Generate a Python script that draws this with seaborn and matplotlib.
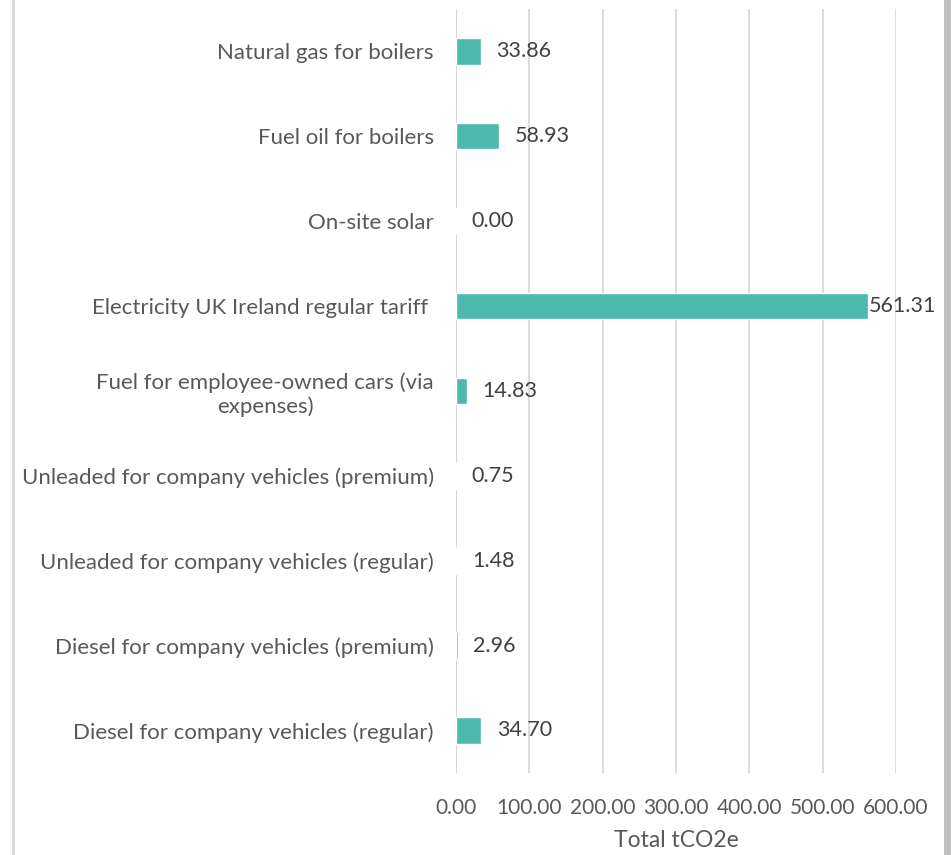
import pandas as pd
import seaborn as sns
import matplotlib.pyplot as plt
from matplotlib.lines import Line2D

categories = [
    'Natural gas for boilers',
    'Fuel oil for boilers',
    'On-site solar',
    'Electricity UK Ireland regular tariff ',
    'Fuel for employee-owned cars (via\nexpenses)',
    'Unleaded for company vehicles (premium)',
    'Unleaded for company vehicles (regular)',
    'Diesel for company vehicles (premium)',
    'Diesel for company vehicles (regular)',
]
values = [33.86, 58.93, 0.00, 561.31, 14.83, 0.75, 1.48, 2.96, 34.70]
x_ticks = [0, 100, 200, 300, 400, 500, 600]

df = pd.DataFrame({'source': categories, 'tco2e': values})

sns.set_style('white')
plt.rcParams['font.family'] = ['Lato', 'DejaVu Sans']
text_col = '#595959'

fig = plt.figure(figsize=(9.53, 8.55), dpi=100)
ax = fig.add_axes([0.4785, 0.096, 0.4617, 0.8935])

sns.barplot(data=df, x='tco2e', y='source', color='#4BB9AE', width=0.31,
            saturation=1, ax=ax)

ax.set_xlim(0, 600)
ax.set_xticks(x_ticks)
ax.set_xticklabels([f'{t:.2f}' for t in x_ticks], fontsize=15, color=text_col)
ax.tick_params(axis='x', length=0, pad=18)
ax.tick_params(axis='y', length=0, pad=16)
for lab in ax.get_yticklabels():
    lab.set_fontsize(16)
    lab.set_color(text_col)
    lab.set_multialignment('center')

ax.grid(axis='x', color='#D9D9D9', linewidth=1.3)
ax.set_axisbelow(True)
for s in ax.spines.values():
    s.set_visible(False)
ax.axvline(0, color='#BFBFBF', linewidth=1.3, zorder=0.5)

ax.set_xlabel('Total tCO2e', fontsize=16.5, color=text_col, labelpad=9)
ax.set_ylabel('')

for i, v in enumerate(values):
    off = 1 if v == max(values) else 11
    ax.annotate(f'{v:.2f}', xy=(v, i), xytext=(off, 0), textcoords='offset points',
                va='center', ha='left', fontsize=15.5, color='#404040')

# chart frame edges
fig.add_artist(Line2D([0.0136, 0.0136], [0, 1], color='#D9D9D9', linewidth=2))
fig.add_artist(Line2D([0.9935, 0.9935], [0, 1], color='#BFBFBF', linewidth=5))

fig.savefig('out.png', dpi=100)
